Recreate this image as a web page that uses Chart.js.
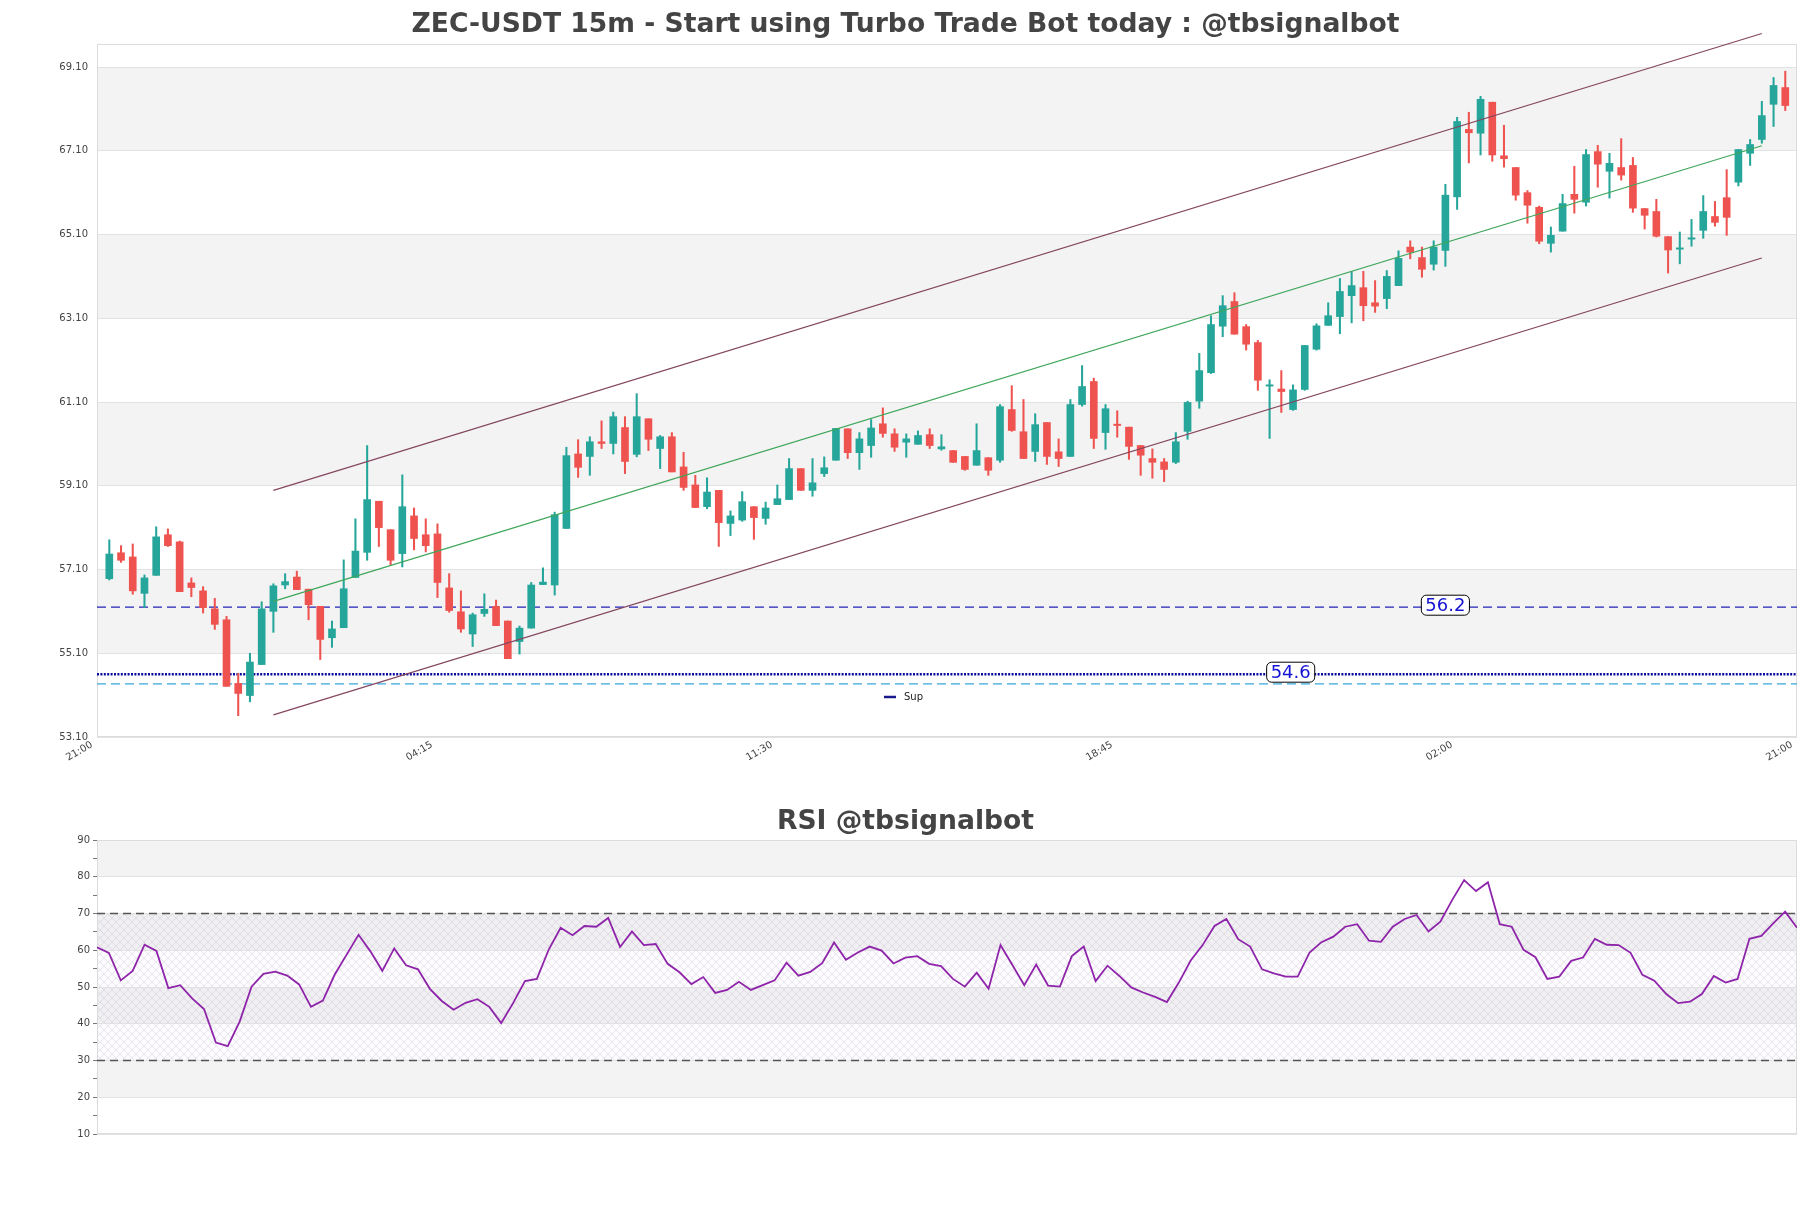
<!DOCTYPE html>
<html><head><meta charset="utf-8">
<script src="https://cdn.jsdelivr.net/npm/chart.js@4.4.1/dist/chart.umd.min.js"></script>
<style>
html,body{margin:0;padding:0;background:#fff;width:1811px;height:1208px;overflow:hidden;font-family:"DejaVu Sans",sans-serif;}
.t{position:absolute;left:0;width:1811px;text-align:center;font-weight:bold;font-size:26.6px;color:#444;line-height:30px;font-family:"DejaVu Sans",sans-serif;}
#w1{position:absolute;left:0;top:0;width:1811px;height:790px;}
#w2{position:absolute;left:0;top:790px;width:1811px;height:418px;}
</style></head><body>
<div id="w1"><canvas id="c1" width="1811" height="790"></canvas></div>
<div id="w2"><canvas id="c2" width="1811" height="418"></canvas></div>
<div class="t" style="top:8px">ZEC-USDT 15m - Start using Turbo Trade Bot today : @tbsignalbot</div>
<div class="t" style="top:805px">RSI @tbsignalbot</div>
<script>
const opens=[56.88,57.50,57.40,56.53,56.96,57.93,57.76,56.78,56.59,56.16,55.90,54.38,54.09,54.83,56.10,56.73,56.92,56.63,56.22,55.47,
55.71,56.91,57.51,58.73,58.05,57.48,58.38,57.93,57.95,56.66,56.09,55.56,56.05,56.22,55.87,55.38,55.70,56.74,56.73,58.08,
59.86,59.80,60.15,60.11,60.49,59.85,60.70,59.99,60.27,59.55,59.12,58.60,58.99,58.20,58.28,58.60,58.32,58.65,58.77,59.51,
58.99,59.39,59.71,60.46,59.89,60.06,60.58,60.34,60.14,60.09,60.32,59.98,59.94,59.80,59.59,59.77,59.71,60.92,60.39,59.92,
60.61,59.91,59.80,61.04,61.59,60.37,60.57,60.50,60.06,59.75,59.67,59.66,60.40,61.12,61.80,62.91,63.50,62.90,62.52,61.48,
61.41,60.92,61.40,62.36,62.93,63.14,63.64,63.83,63.47,63.57,63.88,64.80,64.55,64.39,64.72,66.00,67.61,67.52,68.26,66.98,
66.70,66.10,65.75,64.89,65.18,66.06,65.87,67.08,66.61,66.70,66.75,65.72,65.65,65.05,64.75,64.99,65.20,65.53,65.98,66.35,
67.04,67.37,68.21,68.61];
const highs=[57.81,57.67,57.71,56.97,58.12,58.07,57.78,56.90,56.69,56.41,55.98,54.62,55.10,56.33,56.76,57.00,57.06,56.63,56.22,55.87,
57.33,58.31,60.06,58.73,58.05,59.36,58.57,58.31,58.19,57.00,56.59,56.06,56.52,56.37,55.87,55.75,56.79,57.14,58.47,60.02,
60.20,60.27,60.65,60.86,60.75,61.30,60.70,60.30,60.37,59.90,59.35,59.29,58.99,58.50,58.96,58.60,58.71,59.12,59.75,59.51,
59.75,59.79,60.47,60.46,60.37,60.68,60.96,60.46,60.34,60.41,60.46,60.32,59.94,59.80,60.58,59.77,61.04,61.49,61.16,60.82,
60.61,60.22,61.16,61.97,61.67,61.04,60.89,60.50,60.06,59.98,59.75,60.37,61.12,62.26,63.16,63.64,63.71,62.95,62.57,61.63,
61.85,61.51,62.45,62.97,63.47,64.05,64.22,64.22,64.00,64.24,64.71,64.95,64.80,64.95,66.30,67.90,68.02,68.40,68.26,67.71,
66.70,66.15,65.78,65.28,66.06,66.73,67.13,67.23,67.04,67.39,66.94,65.72,65.94,65.05,65.16,65.46,66.03,65.89,66.65,67.13,
67.37,68.28,68.85,69.00];
const lows=[56.85,57.27,56.51,56.19,56.96,57.65,56.57,56.45,56.06,55.67,54.31,53.61,53.94,54.83,55.60,56.64,56.62,55.90,54.95,55.24,
55.71,56.91,57.32,57.65,57.21,57.16,57.57,57.52,56.43,56.08,55.60,55.26,55.98,55.76,54.97,55.08,55.70,56.74,56.49,58.08,
59.30,59.35,59.99,59.86,59.39,59.79,59.94,59.51,59.43,58.99,58.58,58.55,57.65,57.91,58.25,57.82,58.18,58.65,58.77,58.99,
58.85,59.32,59.71,59.75,59.49,59.78,60.26,59.92,59.78,60.09,59.99,59.95,59.66,59.47,59.59,59.35,59.66,60.40,59.75,59.68,
59.61,59.56,59.80,61.00,59.99,59.97,60.26,59.73,59.35,59.28,59.20,59.63,60.21,60.95,61.78,62.66,62.72,62.34,61.38,60.23,
60.85,60.90,61.38,62.34,62.93,62.73,62.99,63.04,63.24,63.33,63.88,64.52,64.08,64.25,64.34,65.70,66.81,67.00,66.85,66.71,
65.92,65.37,64.88,64.68,65.18,65.61,65.78,66.23,65.97,66.40,65.63,65.23,65.04,64.18,64.40,64.82,65.01,65.30,65.08,66.26,
66.75,67.28,67.68,68.06];
const closes=[57.47,57.32,56.59,56.90,57.88,57.67,56.57,56.67,56.19,55.79,54.31,54.14,54.89,56.16,56.71,56.81,56.62,56.26,55.43,55.68,
56.64,57.54,58.77,58.10,57.32,58.60,57.84,57.67,56.79,56.12,55.68,56.02,56.15,55.76,54.97,55.70,56.73,56.80,58.41,59.82,
59.54,60.15,60.11,60.75,59.68,60.75,60.21,60.27,59.43,59.06,58.58,58.95,58.22,58.38,58.72,58.34,58.57,58.79,59.51,58.99,
59.17,59.53,60.47,59.89,60.22,60.48,60.35,60.02,60.22,60.30,60.06,60.03,59.66,59.49,59.94,59.47,60.99,60.42,59.75,60.56,
59.80,59.75,61.04,61.47,60.23,60.94,60.54,60.04,59.83,59.66,59.49,60.15,61.09,61.85,62.95,63.40,62.72,62.48,61.62,61.50,
61.35,61.39,62.45,62.92,63.16,63.74,63.88,63.40,63.39,64.10,64.53,64.68,64.27,64.80,66.04,67.80,67.53,68.33,67.00,66.91,
66.04,65.80,64.94,65.08,65.84,65.94,67.01,66.78,66.80,66.52,65.73,65.56,65.06,64.73,64.78,65.02,65.65,65.39,65.51,67.13,
67.25,67.94,68.66,68.18];
const rsiValues=[60.8,59.3,51.8,54.4,61.5,59.8,49.7,50.5,46.9,44.0,34.9,33.9,40.6,50.1,53.6,54.2,53.1,50.7,44.6,46.3,
53.4,58.8,64.2,59.7,54.4,60.5,55.9,54.8,49.5,46.2,43.8,45.7,46.7,44.6,40.2,45.6,51.6,52.2,60.2,66.1,
64.1,66.6,66.4,68.8,60.9,65.1,61.4,61.7,56.3,54.0,50.8,52.7,48.4,49.2,51.4,49.2,50.5,51.8,56.6,53.1,
54.1,56.5,62.1,57.4,59.4,61.0,59.9,56.4,58.0,58.4,56.3,55.7,52.2,50.1,53.9,49.5,61.4,56.0,50.5,56.1,
50.4,50.1,58.4,61.0,51.6,55.8,53.0,49.9,48.5,47.3,45.9,51.2,57.2,61.4,66.6,68.5,63.0,61.0,54.8,53.7,
52.8,52.8,59.4,62.2,63.7,66.4,67.1,62.6,62.3,66.4,68.5,69.6,65.1,67.8,73.7,79.1,76.1,78.5,67.1,66.4,
60.1,58.1,52.2,52.8,57.1,58.0,63.1,61.5,61.4,59.3,53.3,51.7,48.1,45.6,46.0,48.1,53.0,51.2,52.2,63.1,
63.9,67.3,70.5,66.1];
const xTickLabels=['21:00','04:15','11:30','18:45','02:00','21:00'];
const priceTicks=[53.1,55.1,57.1,59.1,61.1,63.1,65.1,67.1,69.1];
const channelIdx=[14,141];
const channelUpper=[58.99,69.90];
const channelMid=[56.34,67.22];
const channelLower=[53.63,64.54];
const levelDash=56.2, levelDot=54.6, levelCyan=54.37;
const rsiBounds=[30,70];

const UP='#26a69a', DN='#ef5350';
const FONT='"DejaVu Sans", sans-serif';
const X_MIN=-1.05, X_MAX=144;
const idx=opens.map((_,i)=>i);
const col=idx.map(i=>closes[i]>=opens[i]?UP:DN);
function seg(a){return [{x:channelIdx[0],y:a[0]},{x:channelIdx[1],y:a[1]}];}
function hline(v){return [{x:X_MIN,y:v},{x:X_MAX,y:v}];}

const mainPlugin={
  id:'mainDecor',
  beforeDraw(chart){
    const {ctx,chartArea:a,scales:{y}}=chart;
    ctx.save();
    ctx.fillStyle='#fff';ctx.fillRect(0,0,chart.width,chart.height);
    ctx.fillStyle='#f3f3f3';
    for(let k=1;k+1<priceTicks.length;k+=2){
      const t=y.getPixelForValue(priceTicks[k+1]), b=y.getPixelForValue(priceTicks[k]);
      ctx.fillRect(a.left,t,a.right-a.left,b-t);
    }
    ctx.restore();
  },
  beforeDatasetsDraw(chart){
    const {ctx,chartArea:a}=chart;
    ctx.save();ctx.strokeStyle='#dcdcdc';ctx.lineWidth=1;
    ctx.strokeRect(a.left+0.5,a.top+0.5,a.right-a.left-1,a.bottom-a.top-1);
    ctx.restore();
  },
  afterDatasetsDraw(chart){
    const {ctx,scales:{x,y}}=chart;
    ctx.save();
    function box(text,xi,v){
      const cx=x.getPixelForValue(xi), cy=y.getPixelForValue(v);
      ctx.font='18px '+FONT;
      const w=ctx.measureText(text).width+8, h=20;
      ctx.beginPath();ctx.roundRect(cx-w/2,cy-h/2-2,w,h,5);
      ctx.fillStyle='#fff';ctx.fill();ctx.strokeStyle='#000';ctx.lineWidth=1;ctx.stroke();
      ctx.fillStyle='#1414d2';ctx.textAlign='center';ctx.textBaseline='middle';
      ctx.fillText(text,cx,cy-1);
    }
    box(String(levelDash),114,levelDash);
    box(String(levelDot),100.8,levelDot);
    ctx.strokeStyle='#1a1a8c';ctx.lineWidth=2.5;ctx.beginPath();ctx.moveTo(884,697);ctx.lineTo(896,697);ctx.stroke();
    ctx.font='10px '+FONT;ctx.fillStyle='#222';ctx.textAlign='left';ctx.textBaseline='middle';
    ctx.fillText('Sup',904,697);
    ctx.restore();
  }
};

new Chart(document.getElementById('c1'),{
  type:'bar',
  data:{datasets:[
    {type:'bar',label:'wick',data:idx.map(i=>({x:i,y:[lows[i],highs[i]]})),backgroundColor:col,barThickness:1.4,grouped:false,order:3},
    {type:'bar',label:'body',data:idx.map(i=>({x:i,y:[opens[i],closes[i]]})),backgroundColor:col,barThickness:7,grouped:false,minBarLength:1.3,order:2},
    {type:'line',label:'dash',data:hline(levelDash),borderColor:'#2323b8',borderWidth:1.3,borderDash:[9,5],pointRadius:0,order:4},
    {type:'line',label:'Sup',data:hline(levelDot),borderColor:'#0a0aa0',borderWidth:2.5,borderDash:[2,1.4],pointRadius:0,order:4},
    {type:'line',label:'cyan',data:hline(levelCyan),borderColor:'#3aa6d8',borderWidth:1.3,borderDash:[9,5],pointRadius:0,order:4},
    {type:'line',label:'upper',data:seg(channelUpper),borderColor:'#844660',borderWidth:1.2,pointRadius:0,clip:false,order:1},
    {type:'line',label:'mid',data:seg(channelMid),borderColor:'#3fa65a',borderWidth:1.2,pointRadius:0,clip:false,order:1},
    {type:'line',label:'lower',data:seg(channelLower),borderColor:'#844660',borderWidth:1.2,pointRadius:0,clip:false,order:1}
  ]},
  options:{
    responsive:false,animation:false,
    layout:{padding:{left:0,right:14,top:44,bottom:0}},
    plugins:{legend:{display:false},tooltip:{enabled:false}},
    scales:{
      x:{type:'linear',min:X_MIN,max:X_MAX,offset:false,
        afterBuildTicks:s=>{s.ticks=xTickLabels.map((_,k)=>({value:X_MIN+k*(X_MAX-X_MIN)/(xTickLabels.length-1)}));},
        ticks:{callback:(v,i)=>xTickLabels[i],minRotation:30,maxRotation:30,autoSkip:false,labelOffset:-5,font:{size:10,family:FONT},color:'#444',padding:2},
        grid:{display:false,drawTicks:false},border:{display:false},
        afterFit:s=>{s.height=53;}},
      y:{min:53.1,max:69.65,
        afterBuildTicks:s=>{s.ticks=priceTicks.map(v=>({value:v}));},
        ticks:{callback:v=>Number(v).toFixed(2),font:{size:10,family:FONT},color:'#444',padding:9,autoSkip:false},
        grid:{color:'#e2e2e2',drawTicks:false},border:{display:false},
        afterFit:s=>{s.width=97;}}
    }
  },
  plugins:[mainPlugin]
});

const pc=document.createElement('canvas');pc.width=8;pc.height=8;
const pg=pc.getContext('2d');pg.strokeStyle='rgba(150,120,170,0.24)';pg.lineWidth=0.7;
pg.beginPath();pg.moveTo(0,0);pg.lineTo(8,8);pg.moveTo(8,0);pg.lineTo(0,8);pg.stroke();

const rsiPlugin={
  id:'rsiDecor',
  beforeDraw(chart){
    const {ctx,chartArea:a,scales:{y}}=chart;
    ctx.save();
    ctx.fillStyle='#fff';ctx.fillRect(0,0,chart.width,chart.height);
    ctx.fillStyle='#f3f3f3';
    for(let v=20;v<90;v+=20){
      const t=y.getPixelForValue(v+10), b=y.getPixelForValue(v);
      ctx.fillRect(a.left,t,a.right-a.left,b-t);
    }
    const t=y.getPixelForValue(rsiBounds[1]), b=y.getPixelForValue(rsiBounds[0]);
    ctx.fillStyle='rgba(210,185,220,0.06)';ctx.fillRect(a.left,t,a.right-a.left,b-t);
    ctx.fillStyle=ctx.createPattern(pc,'repeat');ctx.fillRect(a.left,t,a.right-a.left,b-t);
    ctx.restore();
  },
  beforeDatasetsDraw(chart){
    const {ctx,chartArea:a}=chart;
    ctx.save();ctx.strokeStyle='#dcdcdc';ctx.lineWidth=1;
    ctx.strokeRect(a.left+0.5,a.top+0.5,a.right-a.left-1,a.bottom-a.top-1);
    ctx.restore();
  }
};

new Chart(document.getElementById('c2'),{
  type:'line',
  data:{datasets:[
    {label:'RSI',data:rsiValues.map((v,i)=>({x:i,y:v})),borderColor:'#8e24aa',borderWidth:1.8,pointRadius:0,tension:0,order:1},
    {label:'ob',data:[{x:0,y:rsiBounds[1]},{x:rsiValues.length-1,y:rsiBounds[1]}],borderColor:'#555',borderWidth:1.3,borderDash:[8,5],pointRadius:0,order:2},
    {label:'os',data:[{x:0,y:rsiBounds[0]},{x:rsiValues.length-1,y:rsiBounds[0]}],borderColor:'#555',borderWidth:1.3,borderDash:[8,5],pointRadius:0,order:2}
  ]},
  options:{
    responsive:false,animation:false,
    layout:{padding:{left:0,right:14,top:50,bottom:74}},
    plugins:{legend:{display:false},tooltip:{enabled:false}},
    scales:{
      x:{type:'linear',min:0,max:rsiValues.length-1,display:false},
      y:{min:10,max:90,
        ticks:{stepSize:5,autoSkip:false,callback:v=>(v%10===0?String(v):''),font:{size:10,family:FONT},color:'#444',padding:3},
        grid:{color:c=>(c.tick&&c.tick.value%10===0)?'#e2e2e2':'rgba(0,0,0,0)',tickColor:'#777',tickLength:4},
        border:{display:false},
        afterFit:s=>{s.width=97;}}
    }
  },
  plugins:[rsiPlugin]
});
</script>
</body></html>
